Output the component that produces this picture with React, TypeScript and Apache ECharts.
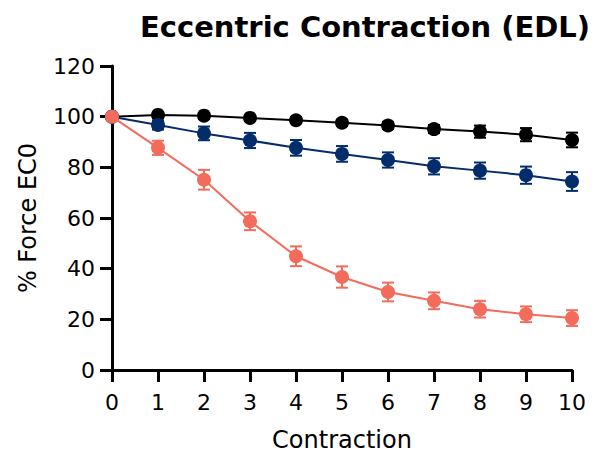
import React, { useEffect, useRef } from "react";
import * as echarts from "echarts";

const contractions = [0, 1, 2, 3, 4, 5, 6, 7, 8, 9, 10];
const blackMean = [100, 100.7, 100.4, 99.5, 98.6, 97.6, 96.5, 95.1, 94.1, 92.9, 90.8];
const blackErr = [0, 0.8, 0.9, 1.0, 1.1, 1.2, 1.4, 1.6, 2.4, 2.6, 2.9];
const blueMean = [100, 96.7, 93.4, 90.6, 87.7, 85.3, 82.9, 80.4, 78.7, 76.9, 74.4];
const blueErr = [0, 1.8, 2.7, 3.0, 3.1, 3.1, 3.0, 3.2, 3.2, 3.4, 3.7];
const redMean = [100, 87.7, 75.1, 58.7, 44.9, 36.7, 30.8, 27.3, 24.0, 22.0, 20.5];
const redErr = [0, 2.8, 3.9, 3.5, 3.9, 4.2, 3.7, 3.3, 3.3, 3.1, 3.1];
const yTicks = [0, 20, 40, 60, 80, 100, 120];

const BLACK = "#000000";
const BLUE = "#032c6b";
const RED = "#f26b5b";
const FONT = "DejaVu Sans";

function errorSeries(name: string, mean: number[], err: number[], color: string, z: number) {
  return {
    name: name + " err",
    type: "custom",
    z,
    data: contractions.map((c, i) => [c, mean[i] - err[i], mean[i] + err[i]]),
    renderItem: (params: any, api: any) => {
      const x = api.value(0);
      const lo = api.coord([x, api.value(1)]);
      const hi = api.coord([x, api.value(2)]);
      const w = 6;
      const style = { stroke: color, lineWidth: 2 };
      return {
        type: "group",
        children: [
          { type: "line", shape: { x1: lo[0], y1: lo[1], x2: hi[0], y2: hi[1] }, style },
          { type: "line", shape: { x1: lo[0] - w, y1: lo[1], x2: lo[0] + w, y2: lo[1] }, style },
          { type: "line", shape: { x1: hi[0] - w, y1: hi[1], x2: hi[0] + w, y2: hi[1] }, style },
        ],
      };
    },
  };
}

function lineSeries(name: string, mean: number[], color: string, z: number) {
  return {
    name,
    type: "line",
    z,
    data: contractions.map((c, i) => [c, mean[i]]),
    symbol: "circle",
    symbolSize: 14,
    itemStyle: { color },
    lineStyle: { color, width: 2 },
  };
}

export default function App() {
  const ref = useRef<HTMLDivElement>(null);
  useEffect(() => {
    if (!ref.current) return;
    const chart = echarts.init(ref.current, null, { renderer: "svg" });
    chart.setOption({
      animation: false,
      backgroundColor: "#ffffff",
      title: {
        text: "Eccentric Contraction (EDL)",
        left: 360,
        textAlign: "center",
        top: 7,
        textStyle: { fontFamily: FONT, fontWeight: "bold", fontSize: 29, color: "#000" },
      },
      grid: { left: 112, right: 22, top: 66, bottom: 84, outerBoundsMode: "none", containLabel: false },
      xAxis: {
        type: "value",
        min: 0,
        max: 10,
        interval: 1,
        name: "Contraction",
        nameLocation: "middle",
        nameGap: 58,
        nameTextStyle: { fontFamily: FONT, fontSize: 24, color: "#000" },
        axisLine: { show: true, onZero: false, lineStyle: { color: "#000", width: 3 } },
        axisTick: { show: true, length: 12, lineStyle: { color: "#000", width: 3 } },
        axisLabel: { fontFamily: FONT, fontSize: 22, color: "#000", margin: 21 },
        splitLine: { show: false },
      },
      yAxis: {
        type: "value",
        min: 0,
        max: 120,
        interval: 20,
        name: "% Force EC0",
        nameLocation: "middle",
        nameGap: 72,
        nameTextStyle: { fontFamily: FONT, fontSize: 24, color: "#000" },
        axisLine: { show: true, lineStyle: { color: "#000", width: 3 } },
        axisTick: { show: true, length: 12, lineStyle: { color: "#000", width: 3 } },
        axisLabel: {
          fontFamily: FONT,
          fontSize: 22,
          color: "#000",
          margin: 17,
          formatter: (v: number) => (yTicks.includes(v) ? String(v) : ""),
        },
        splitLine: { show: false },
      },
      series: [
        errorSeries("Black", blackMean, blackErr, BLACK, 2),
        lineSeries("Black", blackMean, BLACK, 3),
        errorSeries("Blue", blueMean, blueErr, BLUE, 4),
        lineSeries("Blue", blueMean, BLUE, 5),
        errorSeries("Red", redMean, redErr, RED, 6),
        lineSeries("Red", redMean, RED, 7),
      ],
    });
    return () => chart.dispose();
  }, []);
  return <div ref={ref} style={{ width: 594, height: 454, position: "absolute", left: 0, top: 0 }} />;
}
